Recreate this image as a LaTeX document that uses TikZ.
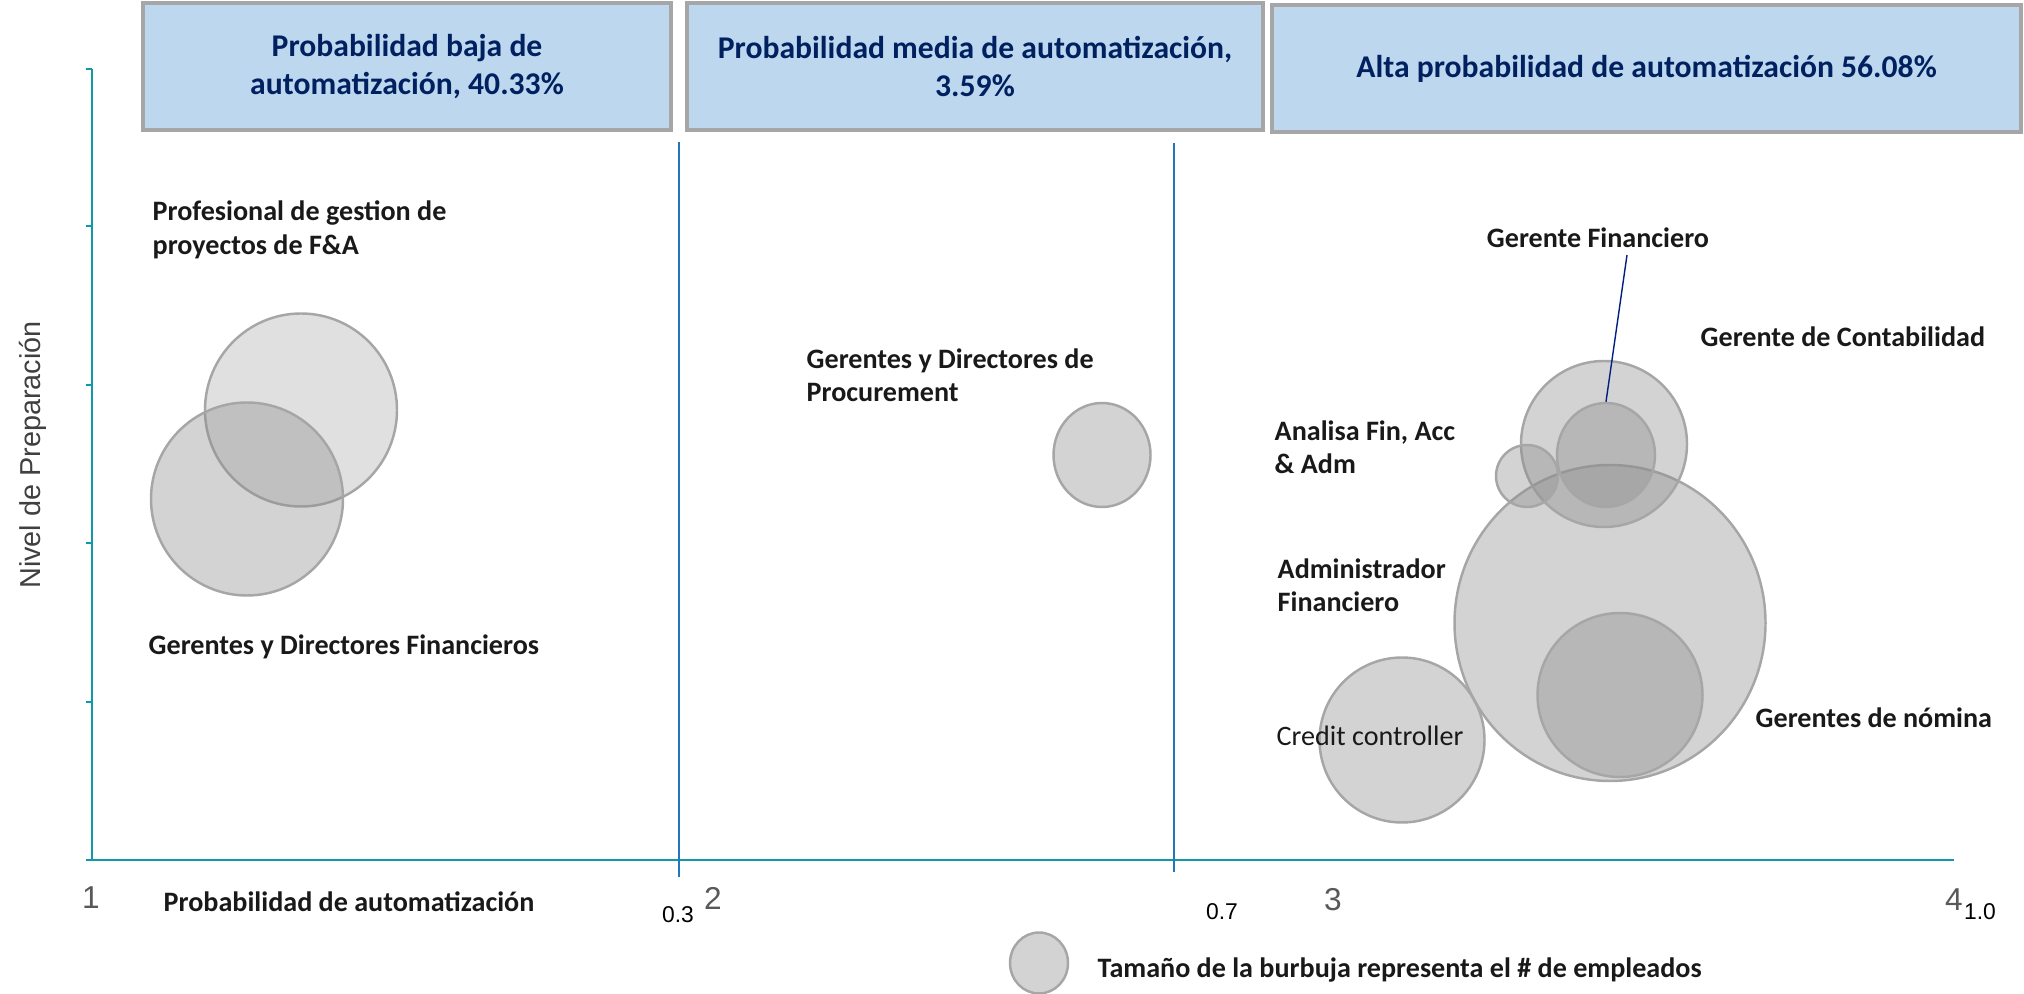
\documentclass[tikz,border=0pt]{standalone}
\usepackage{fontspec}
\setmainfont{Carlito}
\newfontfamily\axisfont{Liberation Sans}
\usetikzlibrary{shapes.geometric}

\definecolor{boxfill}{RGB}{189,215,238}
\definecolor{boxedge}{RGB}{166,166,166}
\definecolor{boxtext}{RGB}{0,32,96}
\definecolor{axisteal}{RGB}{17,153,170}
\definecolor{splitblue}{RGB}{31,119,190}
\definecolor{bubblefill}{RGB}{141,141,141}
\definecolor{bubbleedge}{RGB}{166,166,166}
\definecolor{leadblue}{RGB}{0,32,128}
\definecolor{ticktext}{RGB}{89,89,89}

\tikzset{
  header/.style={draw=boxedge, line width=1pt, fill=boxfill, inner sep=0pt, text=boxtext,
    font=\fontsize{9}{11}\selectfont\bfseries, align=center, minimum height=1.27cm},
  bubble/.style={ellipse, draw=bubbleedge, line width=0.7pt, fill=bubblefill, fill opacity=0.39, inner sep=0pt},
  role/.style={font=\fontsize{8}{9.5}\selectfont\bfseries, text=black!90, align=left, inner sep=0pt, anchor=west},
  axisline/.style={draw=axisteal, line width=0.6pt},
  split/.style={draw=splitblue, line width=0.5pt},
  bignum/.style={font=\axisfont\fontsize{9}{10}\selectfont, text=ticktext, inner sep=0pt},
  smallnum/.style={font=\axisfont\fontsize{6.5}{7}\selectfont, text=black, inner sep=0pt},
  leader/.style={draw=leadblue, line width=0.4pt}
}

\begin{document}
\begin{tikzpicture}[x=1cm, y=-1cm]
  \useasboundingbox (0,0) rectangle (20.24,9.94);

  % cabeceras
  \node[header, minimum width=5.28cm] (low) at (4.07,0.665) {Probabilidad baja de\\automatización, 40.33\%};
  \node[header, minimum width=5.76cm] (mid) at (9.75,0.665) {Probabilidad media de automatización,\\3.59\%};
  \node[header, minimum width=7.49cm] (high) at (16.465,0.685) {Alta probabilidad de automatización 56.08\%};

  % ejes
  \draw[axisline] (0.92,0.69) -- (0.92,8.60) -- (19.54,8.60);
  \draw[axisline] (0.86,8.60) -- (0.92,8.60);
  \foreach \ty in {0.69,2.26,3.85,5.43,7.02}
    \draw[axisline] (0.86,\ty) -- (0.92,\ty);
  \draw[split] (6.79,1.42) -- (6.79,8.77);
  \draw[split] (11.74,1.43) -- (11.74,8.72);

  \node[bignum] (t1) at (0.91,8.98) {1};
  \node[bignum] (t2) at (7.13,8.98) {2};
  \node[bignum] (t3) at (13.33,9.00) {3};
  \node[bignum] (t4) at (19.54,9.00) {4};
  \node[smallnum] (s3) at (6.78,9.15) {0.3};
  \node[smallnum] (s7) at (12.22,9.12) {0.7};
  \node[smallnum] (s10) at (19.80,9.12) {1.0};
  \node[font=\axisfont\fontsize{8.2}{9}\selectfont, text=black!75, rotate=90, inner sep=0pt] (yaxis) at (0.33,4.55) {Nivel de Preparación};
  \node[role] (xaxis) at (1.63,9.02) {Probabilidad de automatización};

  % burbujas
  \node[bubble, fill opacity=0.27, minimum width=1.92cm, minimum height=1.93cm] (proj) at (3.01,4.10) {};
  \node[bubble, minimum width=1.92cm, minimum height=1.93cm] (finan) at (2.47,4.99) {};
  \node[bubble, minimum width=0.97cm, minimum height=1.04cm] (proc) at (11.02,4.55) {};
  \node[bubble, minimum width=3.11cm, minimum height=3.16cm] (admin) at (16.10,6.23) {};
  \node[bubble, minimum width=1.65cm, minimum height=1.64cm] (nomina) at (16.20,6.95) {};
  \node[bubble, minimum width=1.65cm, minimum height=1.65cm] (credit) at (14.02,7.40) {};
  \node[bubble, minimum width=1.66cm, minimum height=1.66cm] (contab) at (16.04,4.44) {};
  \node[bubble, minimum width=0.98cm, minimum height=1.04cm] (gfin) at (16.06,4.55) {};
  \node[bubble, minimum width=0.62cm, minimum height=0.62cm] (analisa) at (15.27,4.76) {};

  % etiquetas
  \node[role] (lproj) at (1.52,2.30) {Profesional de gestion de\\proyectos de F\&A};
  \node[role] (lfinan) at (1.48,6.47) {Gerentes y Directores Financieros};
  \node[role] (lproc) at (8.06,3.75) {Gerentes y Directores de\\Procurement};
  \node[role, anchor=center] (lgfin) at (15.98,2.38) {Gerente Financiero};
  \node[role] (lcontab) at (17.00,3.37) {Gerente de Contabilidad};
  \node[role] (lanalisa) at (12.74,4.47) {Analisa Fin, Acc\\\& Adm};
  \node[role] (ladmin) at (12.77,5.85) {Administrador\\Financiero};
  \node[role, font=\fontsize{8}{9.5}\selectfont] (lcredit) at (12.76,7.36) {Credit controller};
  \node[role] (lnomina) at (17.55,7.18) {Gerentes de nómina};

  \coordinate (gfinlead) at (16.27,2.55);
  \draw[leader] (gfinlead) -- (gfin.north);

  % leyenda
  \node[bubble, minimum width=0.58cm, minimum height=0.61cm] (legbub) at (10.39,9.63) {};
  \node[role] (legend) at (10.97,9.70) {Tamaño de la burbuja representa el \# de empleados};
\end{tikzpicture}
\end{document}
